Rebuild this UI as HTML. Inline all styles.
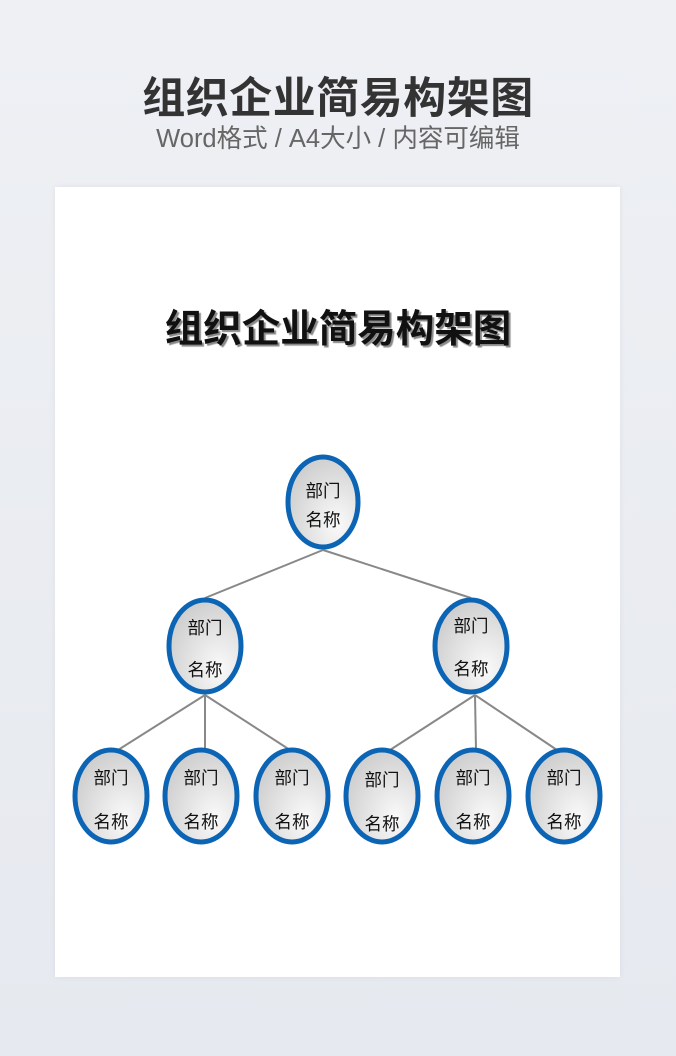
<!DOCTYPE html>
<html><head><meta charset="utf-8"><style>
html,body{margin:0;padding:0}
body{width:676px;height:1056px;background:linear-gradient(#eef0f4,#e6e9ef);position:relative;overflow:hidden;font-family:"Liberation Sans","Noto Sans CJK SC",sans-serif}
.h1{position:absolute;top:64px;left:0;width:676px;text-align:center;font-size:43px;font-weight:bold;color:#333;letter-spacing:0.5px}
.h2{position:absolute;top:118px;left:0;width:676px;text-align:center;font-size:25.5px;color:#666}
.card{position:absolute;left:55px;top:187px;width:565px;height:790px;background:#fff;box-shadow:0 0 6px rgba(0,0,0,0.06)}
.t{position:absolute;top:298px;left:0;width:676px;text-align:center;font-size:38.5px;font-weight:bold;color:#111;text-shadow:2px 2px 1px #888}
svg{position:absolute;left:0;top:0}
</style></head><body>
<div class="h1">组织企业简易构架图</div>
<div class="h2">Word格式 / A4大小 / 内容可编辑</div>
<div class="card"></div>
<div class="t">组织企业简易构架图</div>
<svg width="676" height="1056" font-family="Liberation Sans, Noto Sans CJK SC, sans-serif">
<defs><radialGradient id="g" cx="0.7" cy="0.75" r="0.9"><stop offset="0" stop-color="#fafafa"/><stop offset="1" stop-color="#c8c8c8"/></radialGradient></defs>
<g stroke="#888" stroke-width="2" fill="none">
<line x1="323" y1="550" x2="205" y2="598"/><line x1="323" y1="550" x2="471" y2="598"/>
<line x1="205" y1="695" x2="118" y2="750"/><line x1="205" y1="695" x2="205" y2="750"/><line x1="205" y1="695" x2="290" y2="750"/>
<line x1="475" y1="695" x2="390" y2="750"/><line x1="475" y1="695" x2="476" y2="750"/><line x1="475" y1="695" x2="557" y2="750"/>
</g>
<g stroke="#0c64b4" stroke-width="5" fill="url(#g)">
<ellipse cx="323" cy="502" rx="35" ry="45"/>
<ellipse cx="205" cy="646" rx="36" ry="46"/>
<ellipse cx="471" cy="646" rx="36" ry="46"/>
<ellipse cx="111" cy="796" rx="36" ry="46"/>
<ellipse cx="201" cy="796" rx="36" ry="46"/>
<ellipse cx="292" cy="796" rx="36" ry="46"/>
<ellipse cx="382" cy="796" rx="36" ry="46"/>
<ellipse cx="473" cy="796" rx="36" ry="46"/>
<ellipse cx="564" cy="796" rx="36" ry="46"/>
</g>
<g font-size="17.5" fill="#111" text-anchor="middle">
<text x="323" y="497">部门</text><text x="323" y="526">名称</text>
<text x="205" y="634">部门</text><text x="205" y="676">名称</text>
<text x="471" y="632">部门</text><text x="471" y="675">名称</text>
<text x="111" y="784">部门</text><text x="111" y="828">名称</text>
<text x="201" y="784">部门</text><text x="201" y="828">名称</text>
<text x="292" y="784">部门</text><text x="292" y="828">名称</text>
<text x="382" y="786">部门</text><text x="382" y="830">名称</text>
<text x="473" y="784">部门</text><text x="473" y="828">名称</text>
<text x="564" y="784">部门</text><text x="564" y="828">名称</text>
</g>
</svg>
</body></html>
